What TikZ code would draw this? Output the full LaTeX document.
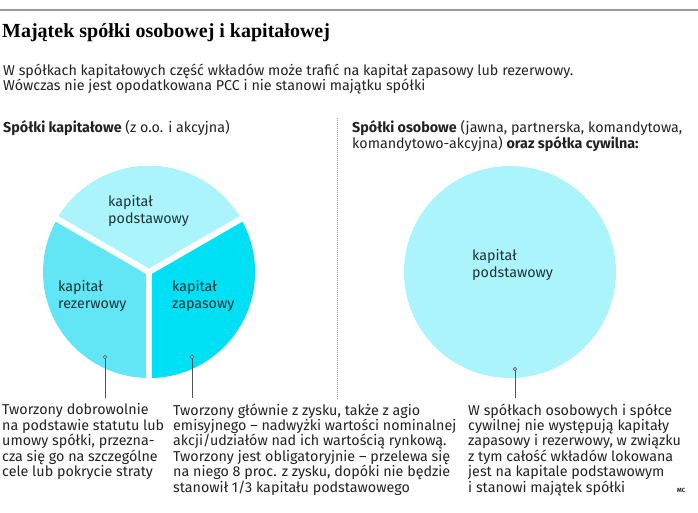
\documentclass[tikz,border=0pt]{standalone}
\usepackage{fontspec}
\setmainfont{Fira Sans}
\newfontfamily\titlefont{Liberation Serif}
\definecolor{topc}{HTML}{ABF4FC}
\definecolor{leftc}{HTML}{62E6F6}
\definecolor{rightc}{HTML}{00E0F5}
\definecolor{textc}{HTML}{222222}
\definecolor{labc}{HTML}{1E3438}
\definecolor{rulec}{HTML}{9A9A9A}
\definecolor{linec}{HTML}{555555}
\begin{document}
\begin{tikzpicture}[x=1pt,y=-1pt,
  bodytext/.style={anchor=north west, inner sep=0, align=left, text=textc,
    font=\fontsize{14.3}{15.4}\selectfont},
  slicelabel/.style={anchor=west, inner sep=0, align=left, text=labc,
    font=\fontsize{14.3}{16.5}\selectfont},
  divider/.style={white, line width=6pt},
  leader/.style={linec, line width=0.9pt},
  leaderdot/.style={linec, line width=0.6pt, fill=white},
]
\useasboundingbox (0,0) rectangle (698,512);
% top rule
\coordinate (ruleL) at (0,10);
\coordinate (ruleR) at (698,10);
\draw[rulec, line width=2.5pt] (ruleL) -- (ruleR);
% title
\node[anchor=base west, inner sep=0, font=\titlefont\bfseries\fontsize{20}{22}\selectfont] (title) at (2,37) {Majątek spółki osobowej i kapitałowej};
\node[bodytext] (sub) at (3,63.5) {W spółkach kapitałowych część wkładów może trafić na kapitał zapasowy lub rezerwowy.\\Wówczas nie jest opodatkowana PCC i nie stanowi majątku spółki};
% headers
\node[bodytext] (hleft) at (3,120.5) {\textbf{Spółki kapitałowe} (z o.o. i akcyjna)};
\node[bodytext] (hright) at (352,120.5) {\textbf{Spółki osobowe} (jawna, partnerska, komandytowa,\\komandytowo-akcyjna) \textbf{oraz spółka cywilna:}};
% dotted separator
\coordinate (sepT) at (337,118);
\coordinate (sepB) at (337,400);
\draw[rulec, line width=0.8pt, dash pattern=on 1pt off 1pt] (sepT) -- (sepB);
% left pie
\coordinate (pc) at (149,272);
\fill[leftc] (pc) circle[radius=106];
\fill[topc] (pc) -- ++(-30:106) arc[start angle=-30, end angle=-150, radius=106] -- cycle;
\fill[rightc] (pc) -- ++(90:106) arc[start angle=90, end angle=-30, radius=106] -- cycle;
\draw[divider] (pc) -- ++(-30:112);
\draw[divider] (pc) -- ++(-150:112);
\draw[divider] (pc) -- ++(90:112);
\node[slicelabel] (lpod) at (108,211) {kapitał\\podstawowy};
\node[slicelabel] (lrez) at (58,296) {kapitał\\rezerwowy};
\node[slicelabel] (lzap) at (172,296) {kapitał\\zapasowy};
% right circle
\coordinate (rc) at (510,272);
\fill[topc] (rc) circle[radius=106];
\node[slicelabel] (rpod) at (472,265) {kapitał\\podstawowy};
% leaders
\coordinate (d1) at (105,357);
\coordinate (e1) at (105,398);
\coordinate (d2) at (192,357);
\coordinate (e2) at (192,398);
\coordinate (d3) at (515,369);
\coordinate (e3) at (515,398);
\draw[leader] (d1) -- (e1);
\draw[leader] (d2) -- (e2);
\draw[leader] (d3) -- (e3);
\draw[leaderdot] (d1) circle[radius=1.6];
\draw[leaderdot] (d2) circle[radius=1.6];
\draw[leaderdot] (d3) circle[radius=1.6];
% bottom texts
\node[bodytext] (t1) at (2,403.5) {Tworzony dobrowolnie\\na podstawie statutu lub\\umowy spółki, przezna-\\cza się go na szczególne\\cele lub pokrycie straty};
\node[bodytext] (t2) at (173,403.5) {Tworzony głównie z zysku, także z agio\\emisyjnego – nadwyżki wartości nominalnej\\akcji/udziałów nad ich wartością rynkową.\\Tworzony jest obligatoryjnie – przelewa się\\na niego 8 proc. z zysku, dopóki nie będzie\\stanowił 1/3 kapitału podstawowego};
\node[bodytext] (t3) at (468,403.5) {W spółkach osobowych i spółce\\cywilnej nie występują kapitały\\zapasowy i rezerwowy, w związku\\z tym całość wkładów lokowana\\jest na kapitale podstawowym\\i stanowi majątek spółki};
\node[anchor=base west, inner sep=0, text=textc, font=\fontsize{6}{6}\selectfont\bfseries] (mc) at (677,492) {MC};
\end{tikzpicture}
\end{document}
